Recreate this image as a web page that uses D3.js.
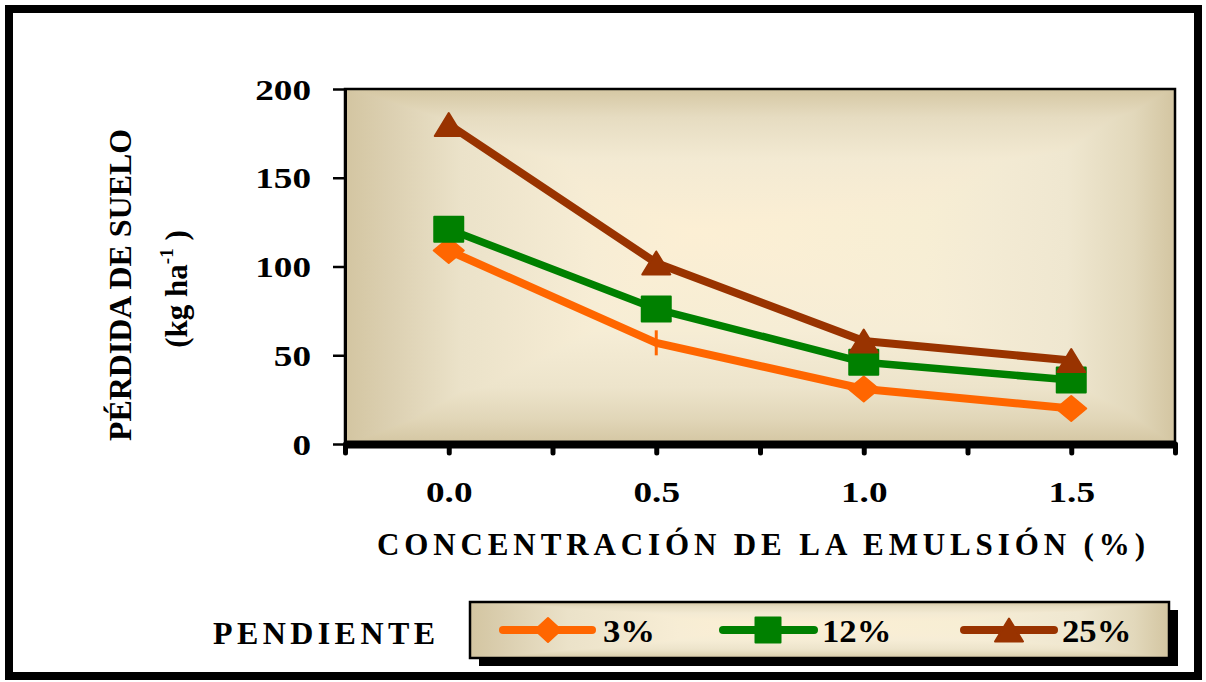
<!DOCTYPE html>
<html>
<head>
<meta charset="utf-8">
<script src="https://cdn.jsdelivr.net/npm/d3@7"></script>
<style>
  html, body { margin: 0; padding: 0; background: #ffffff; }
  svg { display: block; }
  text { font-family: "Liberation Serif", "Times New Roman", serif; font-weight: bold; fill: #000; }
</style>
</head>
<body>
<svg id="chart" width="1206" height="682"></svg>
<script>
// ---------------- data ----------------
const categories = [0.0, 0.5, 1.0, 1.5];
const categoryLabels = ["0.0", "0.5", "1.0", "1.5"];
const seriesNames = ["3%", "12%", "25%"];
const values3 = [109, 57, 31, 20];
const values12 = [121, 76, 46, 36];
const values25 = [180, 102, 58, 47];
const markers3 = ["diamond", "bar", "diamond", "diamond"];
const markers12 = ["square", "square", "square", "square"];
const markers25 = ["triangle", "triangle", "triangle", "triangle"];
const yTicks = [0, 50, 100, 150, 200];
const xTicks = [-0.25, 0, 0.25, 0.5, 0.75, 1.0, 1.25, 1.5, 1.75];
const yTitle1 = "PÉRDIDA DE SUELO";
const yTitle2a = "(kg ha";
const yTitle2sup = "-1";
const yTitle2b = " )";
const xTitle = "CONCENTRACIÓN DE LA EMULSIÓN (%)";
const legendTitle = "PENDIENTE";
const seriesColors = ["#ff6600", "#008000", "#993300"];

// ---------------- setup ----------------
const svg = d3.select("#chart");
const plot = { left: 345, right: 1175, top: 89, bottom: 444 };
const x = d3.scaleLinear().domain([-0.25, 1.75]).range([plot.left, plot.right]);
const y = d3.scaleLinear().domain([0, 200]).range([plot.bottom, plot.top]);

const series = [
  { name: seriesNames[0], values: values3, markers: markers3, color: seriesColors[0], width: 8 },
  { name: seriesNames[1], values: values12, markers: markers12, color: seriesColors[1], width: 7.5 },
  { name: seriesNames[2], values: values25, markers: markers25, color: seriesColors[2], width: 8 }
];

function stretch(sel, k) {
  sel.each(function () {
    const w = this.getComputedTextLength();
    d3.select(this).attr("textLength", w * k).attr("lengthAdjust", "spacingAndGlyphs");
  });
}

function markerPath(type) {
  if (type === "diamond") { const w = 15, h = 12.5; return `M0,${-h}L${w},0L0,${h}L${-w},0Z`; }
  if (type === "ldiamond") { const w = 13, h = 12; return `M0,${-h}L${w},0L0,${h}L${-w},0Z`; }
  if (type === "square") { const w = 14.5, h = 12.5; return `M${-w},${-h}H${w}V${h}H${-w}Z`; }
  if (type === "lsquare") { const w = 12.5, h = 12.5; return `M${-w},${-h}H${w}V${h}H${-w}Z`; }
  if (type === "triangle") { const w = 14, h = 11.5; return `M0,${-h}L${w},${h}L${-w},${h}Z`; }
  if (type === "bar") { return `M0,-12.5V12.5`; }
  return "";
}

// ---------------- gradients ----------------
const defs = svg.append("defs");
const gh = defs.append("linearGradient").attr("id", "gh").attr("x1", 0).attr("x2", 1).attr("y1", 0).attr("y2", 0);
[[0, "#d3c5a1"], [0.05, "#dbcfb0"], [0.14, "#ebe2c9"], [0.3, "#f7edd5"], [0.42, "#fcefd4"], [0.7, "#f7eed7"], [0.87, "#efe7d0"], [0.95, "#e2d8bb"], [1, "#d3c5a1"]]
  .forEach(s => gh.append("stop").attr("offset", s[0]).attr("stop-color", s[1]));
const gv = defs.append("linearGradient").attr("id", "gv").attr("x1", 0).attr("x2", 0).attr("y1", 0).attr("y2", 1);
[[0, "#d5c7a3"], [0.08, "#e6dcc1"], [0.2, "#f3ead3"], [0.4, "#fcefd4"], [0.68, "#f6edd6"], [0.84, "#ede4cb"], [0.93, "#e1d6b8"], [1, "#d4c6a2"]]
  .forEach(s => gv.append("stop").attr("offset", s[0]).attr("stop-color", s[1]));

// ---------------- outer frame ----------------
svg.append("rect").attr("x", 9).attr("y", 9).attr("width", 1189).attr("height", 667)
  .attr("fill", "#fff").attr("stroke", "#000").attr("stroke-width", 8);

// ---------------- plot background ----------------
const bg = svg.append("g").style("isolation", "isolate");
bg.append("rect").attr("x", plot.left).attr("y", plot.top)
  .attr("width", plot.right - plot.left).attr("height", plot.bottom - plot.top).attr("fill", "url(#gh)");
bg.append("rect").attr("x", plot.left).attr("y", plot.top)
  .attr("width", plot.right - plot.left).attr("height", plot.bottom - plot.top).attr("fill", "url(#gv)")
  .style("mix-blend-mode", "darken");
svg.append("rect").attr("x", plot.left).attr("y", plot.top)
  .attr("width", plot.right - plot.left).attr("height", plot.bottom - plot.top)
  .attr("fill", "none").attr("stroke", "#000").attr("stroke-width", 2.5);

// ---------------- y axis ----------------
const yAxis = svg.append("g").attr("transform", `translate(${plot.left},0)`)
  .call(d3.axisLeft(y).tickValues(yTicks).tickSize(12).tickSizeOuter(0).tickPadding(22));
yAxis.select(".domain").attr("stroke", "#000").attr("stroke-width", 3);
yAxis.selectAll(".tick line").attr("stroke", "#000").attr("stroke-width", 2.5);
yAxis.selectAll(".tick text").attr("font-size", 30).attr("dy", null).attr("y", 10)
  .attr("font-family", null);
stretch(yAxis.selectAll(".tick text"), 1.24);

// ---------------- x axis ----------------
const xAxis = svg.append("g").attr("transform", `translate(0,${plot.bottom})`)
  .call(d3.axisBottom(x).tickValues(xTicks).tickSize(9).tickSizeOuter(0)
    .tickFormat(d => { const i = categories.findIndex(c => Math.abs(c - d) < 1e-9); return i >= 0 ? categoryLabels[i] : ""; }));
xAxis.select(".domain").attr("stroke", "#000").attr("stroke-width", 8);
xAxis.selectAll(".tick line").attr("stroke", "#000").attr("stroke-width", 5).attr("stroke-linecap", "round");
xAxis.selectAll(".tick text").attr("font-size", 30).attr("dy", null).attr("y", 58).attr("font-family", null);
stretch(xAxis.selectAll(".tick text"), 1.24);

// ---------------- lines & markers ----------------
const line = d3.line().x((d, i) => x(categories[i])).y(d => y(d));
series.forEach(s => {
  svg.append("path").datum(s.values).attr("d", line)
    .attr("fill", "none").attr("stroke", s.color).attr("stroke-width", s.width)
    .attr("stroke-linejoin", "round");
});
series.forEach(s => {
  svg.append("g").selectAll("path").data(s.values).join("path")
    .attr("transform", (d, i) => `translate(${x(categories[i])},${y(d)})`)
    .attr("d", (d, i) => markerPath(s.markers[i]))
    .attr("fill", (d, i) => s.markers[i] === "bar" ? "none" : s.color)
    .attr("stroke", s.color)
    .attr("stroke-width", (d, i) => s.markers[i] === "bar" ? 3 : 2)
    .attr("stroke-linejoin", "round");
});

// ---------------- axis titles ----------------
svg.append("text").attr("transform", "translate(131,285) rotate(-90)")
  .attr("text-anchor", "middle").attr("font-size", 32)
  .attr("textLength", 312).attr("lengthAdjust", "spacingAndGlyphs").text(yTitle1);
const t2 = svg.append("text").attr("transform", "translate(187,289) rotate(-90)")
  .attr("text-anchor", "middle").attr("font-size", 31);
t2.append("tspan").text(yTitle2a);
t2.append("tspan").attr("font-size", 19).attr("dy", -14).text(yTitle2sup);
t2.append("tspan").attr("dy", 14).text(yTitle2b);

svg.append("text").attr("x", 377).attr("y", 555).attr("font-size", 31)
  .attr("textLength", 768).attr("lengthAdjust", "spacing").text(xTitle);

// ---------------- legend ----------------
svg.append("text").attr("x", 213).attr("y", 644).attr("font-size", 32)
  .attr("textLength", 222).attr("lengthAdjust", "spacing").text(legendTitle);

const lg = { x: 470, y: 602, w: 699, h: 56 };
svg.append("rect").attr("x", lg.x + 9).attr("y", lg.y + 8).attr("width", lg.w).attr("height", lg.h).attr("fill", "#000");
const lbg = svg.append("g").style("isolation", "isolate");
lbg.append("rect").attr("x", lg.x).attr("y", lg.y).attr("width", lg.w).attr("height", lg.h).attr("fill", "url(#gh)");
lbg.append("rect").attr("x", lg.x).attr("y", lg.y).attr("width", lg.w).attr("height", lg.h).attr("fill", "url(#gv)")
  .style("mix-blend-mode", "darken");
svg.append("rect").attr("x", lg.x).attr("y", lg.y).attr("width", lg.w).attr("height", lg.h)
  .attr("fill", "none").attr("stroke", "#000").attr("stroke-width", 2.5);

const legendItems = [
  { x0: 503, x1: 592, mx: 548, tx: 603, marker: "ldiamond" },
  { x0: 723, x1: 814, mx: 768, tx: 822, marker: "lsquare" },
  { x0: 964, x1: 1054, mx: 1009, tx: 1062, marker: "triangle" }
];
const ly = 630;
legendItems.forEach((it, i) => {
  const s = series[i];
  svg.append("line").attr("x1", it.x0).attr("x2", it.x1).attr("y1", ly).attr("y2", ly)
    .attr("stroke", s.color).attr("stroke-width", 8).attr("stroke-linecap", "round");
  svg.append("path").attr("transform", `translate(${it.mx},${ly})`).attr("d", markerPath(it.marker))
    .attr("fill", s.color).attr("stroke", s.color).attr("stroke-width", 2).attr("stroke-linejoin", "round");
  const t = svg.append("text").attr("x", it.tx).attr("y", 642).attr("font-size", 31).text(s.name);
  stretch(t, 1.12);
});
</script>
</body>
</html>
